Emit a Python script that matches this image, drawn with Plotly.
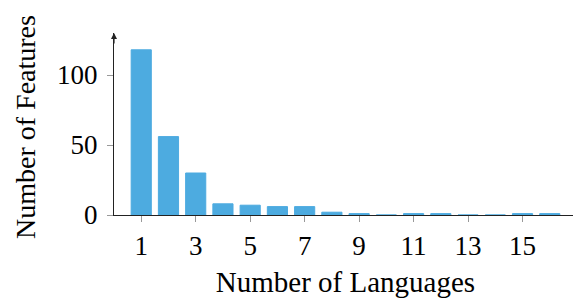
import plotly.graph_objects as go

num_languages = list(range(1, 17))
num_features = [118, 56, 30, 8, 7, 6, 6, 2, 1, 0, 1, 1, 0, 0, 1, 1]
x_ticks = [1, 3, 5, 7, 9, 11, 13, 15]
y_ticks = [0, 50, 100]

FONT = "Liberation Serif"
BAR = "#4dabe0"
AX = "#222222"
TICK = "#999999"

fig = go.Figure()
fig.add_trace(go.Bar(
    x=num_languages, y=num_features, width=0.74,
    marker=dict(color=BAR, line=dict(color=BAR, width=1)),
))

# page body has an 8px default margin, so the figure is sized/offset for it
fig.update_layout(
    width=573, height=290,
    margin=dict(l=106, r=4, t=25, b=83),
    plot_bgcolor="white", paper_bgcolor="white",
    showlegend=False,
    font=dict(family=FONT, size=27, color="black"),
    xaxis=dict(
        range=[0, 17], tickvals=x_ticks, ticktext=[str(v) for v in x_ticks],
        automargin=False,
        showgrid=False, zeroline=False, showline=True, linecolor=AX, linewidth=1.2,
        ticks="outside", ticklen=6, tickcolor=TICK, tickwidth=1,
        tickfont=dict(size=27),
        title=dict(text="Number of Languages", standoff=12, font=dict(size=29)),
    ),
    yaxis=dict(
        range=[0, 130], tickvals=y_ticks,
        automargin=False,
        showgrid=False, zeroline=False, showline=True, linecolor=AX, linewidth=1.2,
        ticks="outside", ticklen=6, tickcolor=TICK, tickwidth=1,
        ticklabelstandoff=4,
        tickfont=dict(size=27),
    ),
)

# y-axis title placed as rotated text
fig.add_annotation(
    x=0, y=0.5, xref="paper", yref="paper", text="Number of Features",
    showarrow=False, textangle=-90, xanchor="center", yanchor="middle",
    xshift=-89, yshift=-3, font=dict(size=28),
)

fig.add_annotation(
    x=0, y=1, xref="paper", yref="paper", text="", showarrow=True,
    ax=0, ay=12, arrowhead=2, arrowsize=1, arrowwidth=1.2, arrowcolor=AX,
)

fig.write_html("out.html")
